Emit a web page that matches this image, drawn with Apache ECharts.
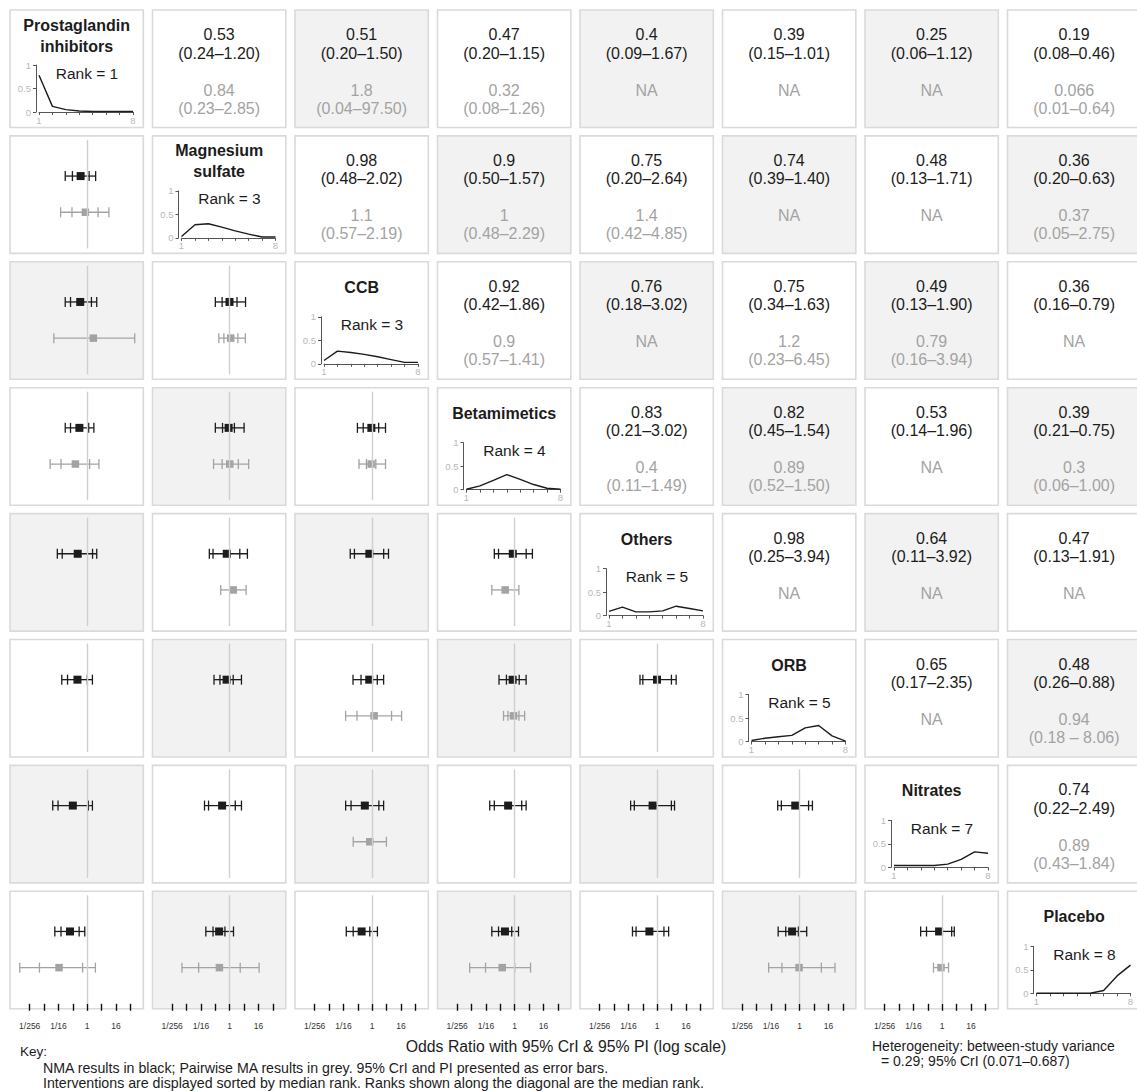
<!DOCTYPE html>
<html><head><meta charset="utf-8">
<script src="https://cdn.jsdelivr.net/npm/echarts@6/dist/echarts.min.js"></script>
<style>html,body{margin:0;padding:0;background:#fff}#chart{width:1137px;height:1091px}</style>
</head><body><div id="chart"></div>
<script>
// ---------------- DATA ----------------
const treatments = ['Prostaglandin\ninhibitors','Magnesium\nsulfate','CCB','Betamimetics','Others','ORB','Nitrates','Placebo'];
const medianRank = [1,3,3,4,5,5,7,8];
// rank probability curves (rank 1..8)
const rankProbPGI  = [0.78,0.12,0.05,0.02,0.01,0.01,0.01,0.01];
const rankProbMg   = [0.03,0.28,0.30,0.23,0.15,0.08,0.02,0.02];
const rankProbCCB  = [0.07,0.27,0.24,0.20,0.15,0.09,0.03,0.03];
const rankProbBeta = [0.01,0.08,0.20,0.32,0.22,0.11,0.03,0.01];
const rankProbOth  = [0.09,0.18,0.08,0.08,0.10,0.20,0.15,0.10];
const rankProbORB  = [0.02,0.07,0.10,0.13,0.29,0.34,0.12,0.01];
const rankProbNit  = [0.04,0.04,0.04,0.04,0.07,0.17,0.33,0.30];
const rankProbPla  = [0.00,0.00,0.00,0.00,0.00,0.06,0.37,0.60];
const rankProbs = [rankProbPGI,rankProbMg,rankProbCCB,rankProbBeta,rankProbOth,rankProbORB,rankProbNit,rankProbPla];

// comparisons (row treatment i vs column treatment j, i<j)
const pairI = [0,0,0,0,0,0,0,1,1,1,1,1,1,2,2,2,2,2,3,3,3,3,4,4,4,5,5,6];
const pairJ = [1,2,3,4,5,6,7,2,3,4,5,6,7,3,4,5,6,7,4,5,6,7,5,6,7,6,7,7];
// NMA odds ratios, 95% CrI and 95% PI
const nmaOR   = ['0.53','0.51','0.47','0.4','0.39','0.25','0.19','0.98','0.9','0.75','0.74','0.48','0.36','0.92','0.76','0.75','0.49','0.36','0.83','0.82','0.53','0.39','0.98','0.64','0.47','0.65','0.48','0.74'];
const nmaLow  = ['0.24','0.20','0.20','0.09','0.15','0.06','0.08','0.48','0.50','0.20','0.39','0.13','0.20','0.42','0.18','0.34','0.13','0.16','0.21','0.45','0.14','0.21','0.25','0.11','0.13','0.17','0.26','0.22'];
const nmaHigh = ['1.20','1.50','1.15','1.67','1.01','1.12','0.46','2.02','1.57','2.64','1.40','1.71','0.63','1.86','3.02','1.63','1.90','0.79','3.02','1.54','1.96','0.75','3.94','3.92','1.91','2.35','0.88','2.49'];
const nmaPILow  = [0.12,0.12,0.12,0.056,0.086,0.036,0.044,0.25,0.25,0.14,0.22,0.088,0.10,0.24,0.12,0.157,0.077,0.082,0.14,0.22,0.09,0.11,0.19,0.077,0.092,0.12,0.125,0.125];
const nmaPIHigh = [2.25,2.5,1.9,2.5,1.65,1.65,0.79,4.6,4.0,5.5,3.1,3.1,1.44,3.6,4.8,3.0,3.0,1.65,5.5,3.0,3.0,1.44,6.2,5.3,3.0,3.4,1.96,3.2];
// Pairwise MA odds ratios, 95% CI and PI (null = NA)
const pwOR   = ['0.84','1.8','0.32',null,null,null,'0.066','1.1','1','1.4',null,null,'0.37','0.9',null,'1.2','0.79',null,'0.4','0.89',null,'0.3',null,null,null,null,'0.94','0.89'];
const pwLow  = ['0.23','0.04','0.08',null,null,null,'0.01','0.57','0.48','0.42',null,null,'0.05','0.57',null,'0.23','0.16',null,'0.11','0.52',null,'0.06',null,null,null,null,'0.18 ','0.43'];
const pwHigh = ['2.85','97.50','1.26',null,null,null,'0.64','2.19','2.29','4.85',null,null,'2.75','1.41',null,'6.45','3.94',null,'1.49','1.50',null,'1.00',null,null,null,null,' 8.06','1.84'];
const pwPILow  = [0.077,null,0.028,null,null,null,0.0015,0.35,0.21,null,null,null,0.01,0.28,null,0.077,null,null,null,0.34,null,0.013,null,null,null,null,0.05,null];
const pwPIHigh = [8.1,null,3.1,null,null,null,2.2,4.5,6.2,null,null,null,17,3.6,null,17,null,null,null,2.6,null,4.6,null,null,null,null,30,null];

// forest x-axis (log2 scale) ticks and labels
const axisTickLog2 = [-8,-6,-4,-2,0,2,4,6];
const axisLabelLog2 = [-8,-4,0,4];
const axisLabelText = ['1/256','1/16','1','16'];

// ---------------- LAYOUT ----------------
const FONT = "'Liberation Sans', Arial, Helvetica, sans-serif";
const N = 8;
const cellW = 133.3, cellH = 117.5;
const colLeft = j => 10 + 142.5 * j;
const rowTop = i => 10 + 125.9 * i;
const BLACK = '#1c1c1c', GREY = '#a3a3a3';

const chart = echarts.init(document.getElementById('chart'), null, {renderer: 'svg'});

const grids = [], xAxes = [], yAxes = [], series = [], graphics = [];

function txt(x, y, text, opt) {
  graphics.push({
    type: 'text', z: 100, x: x, y: y,
    style: Object.assign({
      text: text, fill: BLACK, font: '16px ' + FONT,
      align: 'center', verticalAlign: 'middle', textAlign: 'center', textVerticalAlign: 'middle'
    }, opt || {})
  });
}

// cell backgrounds
for (let i = 0; i < N; i++) {
  for (let j = 0; j < N; j++) {
    const shaded = (i + j) % 2 === 0 && i !== j;
    graphics.push({
      type: 'rect', z: -10,
      shape: {x: colLeft(j), y: rowTop(i), width: cellW, height: cellH},
      style: {fill: shaded ? '#f2f2f2' : '#ffffff', stroke: '#dadada', lineWidth: 1.6}
    });
  }
}

function log2(v) { return Math.log2(v); }

function renderForest(params, api) {
  const est = api.value(0), y = api.value(1), lo = api.value(2), hi = api.value(3);
  const plo = api.value(4), phi = api.value(5), grey = api.value(6), hasPI = api.value(7);
  const color = grey ? GREY : BLACK;
  const c = api.coord([est, y]);
  const cy = c[1];
  const xl = api.coord([lo, y])[0], xh = api.coord([hi, y])[0];
  const xpl = hasPI ? api.coord([plo, y])[0] : xl;
  const xph = hasPI ? api.coord([phi, y])[0] : xh;
  const h = 5, lw = 1.3;
  const st = {stroke: color, lineWidth: lw};
  const children = [
    {type: 'line', shape: {x1: xpl, y1: cy, x2: xph, y2: cy}, style: st},
    {type: 'line', shape: {x1: xpl, y1: cy - h, x2: xpl, y2: cy + h}, style: st},
    {type: 'line', shape: {x1: xph, y1: cy - h, x2: xph, y2: cy + h}, style: st}
  ];
  if (hasPI) {
    children.push({type: 'line', shape: {x1: xl, y1: cy - h, x2: xl, y2: cy + h}, style: st});
    children.push({type: 'line', shape: {x1: xh, y1: cy - h, x2: xh, y2: cy + h}, style: st});
  }
  const s = grey ? 7.5 : 8;
  children.push({type: 'rect', shape: {x: c[0] - s / 2, y: cy - s / 2, width: s, height: s}, style: {fill: color}});
  return {type: 'group', children: children};
}

const XMIN = -10.74, XMAX = 7.8;

for (let k = 0; k < pairI.length; k++) {
  const i = pairI[k], j = pairJ[k];
  // upper triangle text (row i, col j)
  const cx = colLeft(j) + cellW / 2, ty = rowTop(i);
  txt(cx, ty + 24.5, nmaOR[k]);
  txt(cx, ty + 43, '(' + nmaLow[k] + '\u2013' + nmaHigh[k] + ')');
  if (pwOR[k] === null) {
    txt(cx, ty + 80, 'NA', {fill: GREY});
  } else {
    txt(cx, ty + 80, pwOR[k], {fill: GREY});
    txt(cx, ty + 98, '(' + pwLow[k] + '\u2013' + pwHigh[k] + ')', {fill: GREY});
  }
  // lower triangle forest plot (row j, col i)
  const r = j, c = i;
  const gi = grids.length;
  grids.push({left: colLeft(c), top: rowTop(r) + 4, width: cellW, height: cellH - 9, containLabel: false, outerBoundsMode: 'none'});
  const bottomRow = r === N - 1;
  xAxes.push({
    gridIndex: gi, type: 'value', min: XMIN, max: XMAX, show: bottomRow,
    offset: 4.5,
    axisLine: {show: false},
    splitLine: {show: false},
    axisTick: {show: true, customValues: axisTickLog2, length: 7, lineStyle: {color: '#111', width: 1.4}},
    axisLabel: {show: true, customValues: axisLabelLog2, fontSize: 8.5, color: '#333', fontFamily: FONT, margin: 13,
      formatter: v => { const idx = axisLabelLog2.indexOf(Math.round(v)); return idx >= 0 ? axisLabelText[idx] : ''; }}
  });
  yAxes.push({gridIndex: gi, type: 'value', min: 0, max: 3, show: false});
  const data = [[log2(parseFloat(nmaOR[k])), 2, log2(parseFloat(nmaLow[k])), log2(parseFloat(nmaHigh[k])), log2(nmaPILow[k]), log2(nmaPIHigh[k]), 0, 1]];
  if (pwOR[k] !== null) {
    const has = pwPILow[k] !== null;
    data.push([log2(parseFloat(pwOR[k])), 1, log2(parseFloat(pwLow[k])), log2(parseFloat(pwHigh[k])),
      has ? log2(pwPILow[k]) : 0, has ? log2(pwPIHigh[k]) : 0, 1, has ? 1 : 0]);
  }
  series.push({
    type: 'custom', xAxisIndex: gi, yAxisIndex: gi, silent: true, animation: false,
    encode: {x: 0, y: 1},
    renderItem: renderForest, data: data, z: 3,
    markLine: {silent: true, symbol: 'none', animation: false, label: {show: false},
      lineStyle: {color: '#cfcfcf', type: 'solid', width: 1.4},
      data: [{xAxis: 0}]}
  });
}

// diagonal: names, ranks and rank-probability curves
for (let k = 0; k < N; k++) {
  const L = colLeft(k), T = rowTop(k);
  txt(L + cellW / 2, T + 25.5, treatments[k], {font: 'bold 16px ' + FONT, lineHeight: 21});
  txt(L + 77, T + 63, 'Rank = ' + medianRank[k], {font: '15.5px ' + FONT});
  const gi = grids.length;
  grids.push({left: L + 29, top: T + 55, width: 94, height: 47, containLabel: false, outerBoundsMode: 'none'});
  xAxes.push({
    gridIndex: gi, type: 'value', min: 1, max: 8, interval: 1,
    axisLine: {show: true, lineStyle: {color: '#555', width: 1}},
    axisTick: {show: true, length: 3, lineStyle: {color: '#555', width: 1}},
    splitLine: {show: false},
    axisLabel: {customValues: [1, 8], fontSize: 9.5, color: '#b8b8b8', margin: 3, fontFamily: FONT}
  });
  yAxes.push({
    gridIndex: gi, type: 'value', min: 0, max: 1, interval: 0.5, offset: 3,
    axisLine: {show: true, lineStyle: {color: '#555', width: 1}},
    axisTick: {show: true, length: 3, lineStyle: {color: '#555', width: 1}},
    splitLine: {show: false},
    axisLabel: {fontSize: 9.5, color: '#b8b8b8', margin: 5, fontFamily: FONT, formatter: v => String(v)}
  });
  series.push({
    type: 'line', xAxisIndex: gi, yAxisIndex: gi, silent: true, animation: false,
    symbol: 'none', lineStyle: {color: '#1c1c1c', width: 1.4},
    data: rankProbs[k].map((p, r) => [r + 1, p])
  });
}

// footer texts
txt(566, 1046, 'Odds Ratio with 95% CrI & 95% PI (log scale)', {font: '15.8px ' + FONT});
txt(20, 1051, 'Key:', {font: '13.5px ' + FONT, align: 'left', textAlign: 'left'});
txt(43, 1068, 'NMA results in black; Pairwise MA results in grey. 95% CrI and PI presented as error bars.', {font: '14.2px ' + FONT, align: 'left', textAlign: 'left'});
txt(43, 1083, 'Interventions are displayed sorted by median rank. Ranks shown along the diagonal are the median rank.', {font: '14.2px ' + FONT, align: 'left', textAlign: 'left'});
txt(872, 1046, 'Heterogeneity: between-study variance', {font: '14px ' + FONT, align: 'left', textAlign: 'left'});
txt(881, 1061, '= 0.29; 95% CrI (0.071\u20130.687)', {font: '14px ' + FONT, align: 'left', textAlign: 'left'});

chart.setOption({
  animation: false,
  backgroundColor: '#ffffff',
  grid: grids, xAxis: xAxes, yAxis: yAxes, series: series,
  graphic: {elements: graphics}
});
</script></body></html>
